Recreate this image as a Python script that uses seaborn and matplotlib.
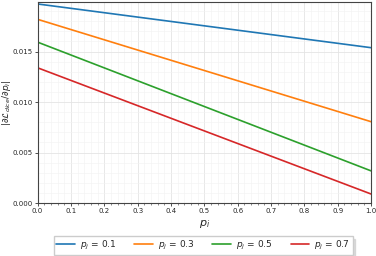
import matplotlib
matplotlib.use("Agg")
import matplotlib.pyplot as plt
import seaborn as sns
import pandas as pd
from matplotlib.ticker import MultipleLocator

p_i = [0.0, 1.0]
grad_pj_01 = [0.01971, 0.01538]
grad_pj_03 = [0.01819, 0.00805]
grad_pj_05 = [0.01593, 0.00318]
grad_pj_07 = [0.01339, 0.00089]
labels = ["$p_j$ = 0.1", "$p_j$ = 0.3", "$p_j$ = 0.5", "$p_j$ = 0.7"]

rows = []
for lab, vals in zip(labels, [grad_pj_01, grad_pj_03, grad_pj_05, grad_pj_07]):
    for x, v in zip(p_i, vals):
        rows.append({"p_i": x, "grad": v, "series": lab})
df = pd.DataFrame(rows)

sns.set_theme(style="whitegrid")
fig = plt.figure(figsize=(3.76, 2.56), dpi=100)
ax = fig.add_axes([0.1, 0.207, 0.887, 0.785])
sns.lineplot(data=df, x="p_i", y="grad", hue="series", hue_order=labels,
             palette=["#1f77b4", "#ff7f0e", "#2ca02c", "#d62728"], lw=1.2, ax=ax, legend=True)
ax.set_xlim(0, 1.0)
ax.set_ylim(0, 0.0199)
ax.xaxis.set_major_locator(MultipleLocator(0.1))
ax.xaxis.set_minor_locator(MultipleLocator(0.02))
ax.yaxis.set_major_locator(MultipleLocator(0.005))
ax.yaxis.set_minor_locator(MultipleLocator(0.001))
ax.yaxis.set_major_formatter(matplotlib.ticker.FormatStrFormatter("%.3f"))
ax.grid(which="major", color="#e4e4e4", lw=0.6)
ax.grid(which="minor", color="#f2f2f2", lw=0.4)
ax.tick_params(axis="both", which="major", labelsize=5, length=2.5, width=0.6, pad=1, color="#333333", bottom=True, left=True)
ax.tick_params(axis="x", which="minor", length=1.5, width=0.4, bottom=True, color="#333333")
for s in ax.spines.values():
    s.set_color("#444444")
    s.set_linewidth(0.8)
ax.set_xlabel("$p_i$", fontsize=8, labelpad=3)
ax.set_ylabel(r"$|\partial \mathcal{L}_{dice}/\partial p_i|$", fontsize=6.5)
ax.yaxis.set_label_coords(-0.073, 0.5)
handles, labs = ax.get_legend_handles_labels()
ax.get_legend().remove()
fig.legend(handles, labs, loc="lower center", bbox_to_anchor=(0.54, -0.012), ncol=4,
           fontsize=6.5, frameon=True, shadow={"shade": 0.25}, handlelength=2.1, handletextpad=0.5,
           columnspacing=2.0, borderpad=0.3, edgecolor="#cccccc", fancybox=False)
fig.savefig("out.png", dpi=100)
